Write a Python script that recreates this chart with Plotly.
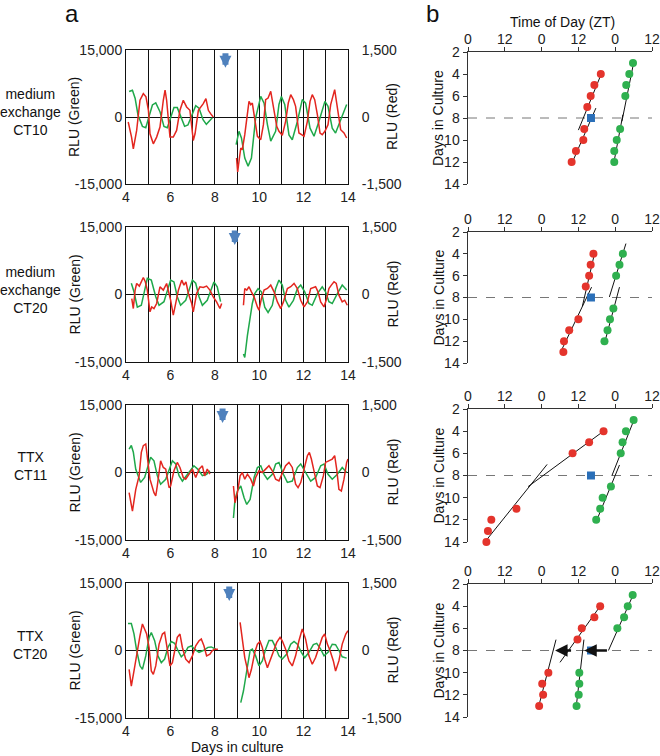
import plotly.graph_objects as go

# ---------------- Panel a : bioluminescence traces ----------------
# days in culture, green RLU (left axis), red RLU (right axis); None = gap at medium exchange / TTX
a1_green_days = [4.14, 4.29, 4.41, 4.54, 4.74, 4.89, 5.04, 5.19, 5.34, 5.53, 5.71, 5.86, 6.01, 6.16, 6.31, 6.49, 6.64, 6.79, 6.99, 7.14, 7.29, 7.47, 7.62, 7.78, 7.89, None,
                 8.96, 9.09, 9.20, 9.35, 9.50, 9.65, 9.84, 10.07, 10.22, 10.37, 10.52, 10.74, 10.89, 11.0, 11.15, 11.34, 11.49, 11.72, 11.94, 12.09, 12.29, 12.47, 12.69, 12.96, 13.10, 13.29, 13.44, 13.67, 13.94]
a1_green_rlu = [5700, 6000, 4200, 450, -2100, -2400, 150, 2700, 3150, 1200, -2100, -2400, -150, 2100, 2100, -150, -2100, -1800, 900, 2550, 1950, -600, -1650, -750, -150, None,
                -6200, -3200, -4700, -9200, -11000, -9200, -200, 4600, 3100, -1700, -5400, -3200, 2800, 4600, 2800, -4000, -5100, -1000, 3900, 3100, -2500, -4300, -1000, 3500, 2400, -2500, -3600, -600, 2800]
a1_red_days = [4.10, 4.25, 4.33, 4.40, 4.48, 4.63, 4.78, 4.90, 5.01, 5.08, 5.23, 5.38, 5.53, 5.68, 5.76, 5.83, 5.98, 6.13, 6.28, 6.43, 6.58, 6.73, 6.88, 7.03, 7.11, 7.26, 7.48, 7.60, 7.71, 7.81, 7.93, None,
               8.98, 9.03, 9.09, 9.17, 9.24, 9.35, 9.54, 9.62, 9.69, 9.80, 9.92, 10.07, 10.19, 10.29, 10.40, 10.52, 10.64, 10.79, 10.89, 11.04, 11.19, 11.31, 11.42, 11.54, 11.64, 11.79, 11.91, 12.02, 12.17, 12.29, 12.39, 12.50, 12.62, 12.74, 12.84, 12.96, 13.10, 13.22, 13.40, 13.49, 13.59, 13.67, 13.82, 13.94]
a1_red_rlu = [-112, -450, -712, -525, -300, 375, 525, 450, 150, -375, -600, -450, -225, 375, 600, 375, -450, -450, -300, 150, 375, 225, 150, -525, -375, 150, 300, 412, 150, 75, 0, None,
              -918, -1230, -990, -694, -731, -396, 351, 276, 313, -60, -433, -507, -172, 388, 425, 575, 201, -209, -321, -410, -97, 313, 500, 388, 239, -358, -396, -433, -97, 351, 500, 388, 52, -358, -396, -321, -172, 276, 612, 351, -22, -284, -358, -470]

a2_green_days = [4.24, 4.36, 4.51, 4.69, 4.96, 5.14, 5.34, 5.49, 5.71, 6.01, 6.16, 6.31, 6.46, 6.69, 6.99, 7.14, 7.29, 7.44, 7.66, 7.96, 8.11, 8.26, None,
                 9.29, 9.35, 9.47, 9.59, 9.69, 9.80, 9.95, 10.10, 10.25, 10.40, 10.59, 10.74, 10.89, 11.04, 11.19, 11.34, 11.54, 11.72, 11.87, 12.05, 12.24, 12.39, 12.62, 12.84, 12.99, 13.14, 13.29, 13.52, 13.74, 13.94]
a2_green_rlu = [2500, 600, -2800, -2400, 3600, 3200, -500, -2400, -1600, 3200, 2800, -500, -2400, -1300, 3200, 2500, -500, -2400, -1300, 2800, 1700, -1600, None,
                -13200, -14000, -9100, -4600, -2000, 200, 1300, 600, -2800, -4000, -2400, 1300, 3200, 2100, -1300, -2800, -1300, 1300, 2100, 600, -2000, -2400, 200, 1700, 600, -1600, -2000, 200, 2100, 1000]
a2_red_days = [4.26, 4.33, 4.41, 4.48, 4.60, 4.71, 4.78, 4.87, 4.96, 5.08, 5.16, 5.26, 5.38, 5.53, 5.68, 5.83, 5.91, 6.01, 6.13, 6.21, 6.36, 6.51, 6.61, 6.70, 6.81, 6.96, 7.03, 7.18, 7.33, 7.48, 7.63, 7.78, 7.93, 8.08, 8.23, 8.31, None,
               9.29, 9.35, 9.44, 9.54, 9.65, 9.77, 9.92, 9.99, 10.10, 10.22, 10.37, 10.52, 10.67, 10.82, 10.97, 11.09, 11.27, 11.42, 11.57, 11.72, 11.87, 12.02, 12.17, 12.32, 12.54, 12.65, 12.77, 12.92, 13.04, 13.14, 13.25, 13.37, 13.47, 13.59, 13.74, 13.85, 13.97]
a2_red_rlu = [-90, -312, 97, 245, 186, 319, 379, 282, 97, -386, -275, -312, -200, 171, 97, 245, 97, -126, -460, -275, 97, 319, 208, 282, 22, -200, -386, 22, 171, 156, 186, 97, -52, -163, -312, -200, None,
              -239, 134, 97, 172, 60, -52, -276, -351, -90, 97, 134, 209, 60, -164, -313, -164, 134, 172, 246, 134, -127, -276, -164, 134, 172, 60, -164, -276, -90, 134, 209, 284, 246, -15, -164, -127, -239]

a3_green_days = [4.14, 4.24, 4.33, 4.44, 4.66, 4.84, 5.11, 5.26, 5.41, 5.56, 5.79, 6.09, 6.24, 6.39, 6.54, 6.76, 7.06, 7.24, 7.44, 7.63, 7.78, None,
                 8.84, 8.91, 9.02, 9.17, 9.32, 9.44, 9.59, 9.77, 9.92, 10.07, 10.22, 10.37, 10.59, 10.74, 10.89, 11.09, 11.27, 11.49, 11.72, 11.87, 12.09, 12.32, 12.54, 12.77, 12.92, 13.10, 13.29, 13.52, 13.74, 13.94]
a3_green_rlu = [5200, 6000, 4500, 700, -2200, -1100, 3400, 2600, -700, -2600, -1500, 2600, 1900, -700, -1900, -400, 1500, 700, -700, -400, 400, None,
                -10100, -6000, -4100, -3000, -5600, -7100, -6000, -1100, 1100, 1500, -400, -1500, -400, 1900, 2200, -400, -2200, -1900, 1100, 1900, 0, -1900, -1100, 1500, 1900, -400, -1500, -400, 1100, 0]
a3_red_days = [4.14, 4.29, 4.44, 4.59, 4.69, 4.78, 4.89, 4.96, 5.08, 5.26, 5.34, 5.41, 5.56, 5.68, 5.79, 5.94, 6.01, 6.16, 6.31, 6.43, 6.58, 6.69, 6.84, 6.99, 7.14, 7.29, 7.44, 7.54, 7.66, 7.78, None,
               8.84, 8.91, 9.02, 9.14, 9.24, 9.35, 9.47, 9.62, 9.74, 9.84, 9.99, 10.14, 10.29, 10.44, 10.59, 10.74, 10.89, 11.04, 11.19, 11.34, 11.49, 11.64, 11.75, 11.87, 12.02, 12.17, 12.26, 12.35, 12.50, 12.62, 12.74, 12.89, 12.99, 13.14, 13.29, 13.40, 13.49, 13.59, 13.70, 13.82, 13.94, 14.0]
a3_red_rlu = [-448, -858, -373, -75, 448, 597, 634, 373, -149, -448, -522, -299, 261, 112, 75, -336, -299, 37, 224, 112, -112, -149, -37, 75, -112, 75, 149, -75, 75, -37, None,
              -299, -672, -448, -75, 0, -149, -37, -149, -299, -112, 37, 0, 75, 149, 37, -149, -187, 0, 149, 224, 112, -261, -336, -224, 75, 373, 448, 299, -37, -299, -336, -75, 224, 261, 299, 373, 75, -373, -410, -149, 224, 299]

a4_green_days = [4.09, 4.24, 4.36, 4.48, 4.63, 4.74, 4.89, 5.04, 5.14, 5.29, 5.44, 5.59, 5.74, 5.89, 6.04, 6.19, 6.34, 6.49, 6.64, 6.79, 6.94, 7.09, 7.29, 7.48, 7.69, 7.84, 8.04, None,
                 9.17, 9.29, 9.39, 9.50, 9.59, 9.69, 9.84, 9.99, 10.14, 10.29, 10.44, 10.59, 10.74, 10.89, 11.04, 11.24, 11.42, 11.57, 11.72, 11.90, 12.05, 12.24, 12.44, 12.59, 12.77, 12.92, 13.10, 13.29, 13.44, 13.59, 13.74, 13.94]
a4_green_rlu = [6000, 6000, 3700, 0, -3400, -4200, -1200, 2900, 4000, 2200, -1200, -2700, -1900, 700, 2000, 1600, 0, -1400, -700, 700, 1000, 300, -400, 0, 700, 800, 300, None,
                -11600, -9000, -6000, -2300, 0, 300, -1200, -3400, -2300, 300, 2200, 2200, 700, -1200, -1900, -800, 1400, 2000, 1400, -400, -1600, -400, 1300, 1600, 300, -1200, -400, 1400, 1300, 0, -1400, -1700]
a4_red_days = [4.14, 4.24, 4.36, 4.51, 4.63, 4.74, 4.84, 4.93, 5.04, 5.14, 5.23, 5.34, 5.49, 5.64, 5.74, 5.86, 5.98, 6.09, 6.19, 6.31, 6.43, 6.54, 6.69, 6.84, 6.99, 7.14, 7.29, 7.39, 7.51, 7.63, 7.78, 7.89, 7.99, 8.14, None,
               9.14, 9.24, 9.35, 9.47, 9.54, 9.65, 9.80, 9.92, 10.04, 10.14, 10.25, 10.37, 10.49, 10.64, 10.79, 10.94, 11.04, 11.19, 11.34, 11.49, 11.64, 11.79, 11.94, 12.09, 12.24, 12.39, 12.54, 12.69, 12.84, 12.95, 13.07, 13.19, 13.34, 13.44, 13.59, 13.74, 13.90, 14.0]
a4_red_rlu = [-418, -791, -455, 0, 328, 590, 478, 366, 67, -455, -530, -343, 142, 366, 403, 67, -343, -269, 0, 291, 366, 67, -194, -269, -119, 104, 216, 254, 104, -119, -82, 0, 30, 30, None,
              627, 291, -157, -418, -604, -418, -45, 142, 201, 67, -194, -381, -231, 0, 179, 291, 216, 30, -231, -343, -119, 216, 478, 254, -119, -306, -157, 67, 291, 366, 142, 0, -231, -455, -231, 142, 366, 440]

# day of the manipulation (blue arrow) per row
a_event_day = [8.48, 8.90, 8.35, 8.65]
row_labels = ["medium<br>exchange<br>CT10", "medium<br>exchange<br>CT20", "TTX<br>CT11", "TTX<br>CT20"]

# ---------------- Panel b : peak phase plots (ZT hours, day in culture) ----------------
b1_red_day = [4, 5, 6, 7, 9, 10, 11, 12]
b1_red_zt = [43.3, 41.2, 40.0, 38.9, 37.9, 37.6, 35.2, 33.8]
b1_green_day = [3, 4, 5, 6, 9, 10, 11, 12]
b1_green_zt = [53.8, 52.6, 51.6, 51.3, 49.6, 48.5, 47.7, 47.7]
b1_red_fit_zt = [43.6, 36.0, None, 33.6, 41.7]
b1_red_fit_day = [3.9, 9.1, None, 12.3, 7.1]
b1_green_fit_zt = [54.0, 50.2, None, 50.5, 47.4]
b1_green_fit_day = [3.0, 8.3, None, 7.7, 12.3]

b2_red_day = [4, 5, 6, 7, 10, 11, 12, 13]
b2_red_zt = [40.9, 40.0, 39.5, 38.4, 36.0, 33.0, 31.3, 31.1]
b2_green_day = [4, 5, 6, 9, 10, 11, 12]
b2_green_zt = [50.5, 49.4, 48.3, 47.4, 46.3, 45.5, 44.5]
b2_red_fit_zt = [41.4, 37.3, None, 40.3, 30.2]
b2_red_fit_day = [3.8, 8.8, None, 7.05, 13.0]
b2_green_fit_zt = [51.5, 46.1, None, 49.4, 44.4]
b2_green_fit_day = [3.06, 7.95, None, 7.05, 12.3]

b3_red_day = [4, 5, 6, 11, 12, 13, 14]
b3_red_zt = [44.2, 39.5, 34.1, 15.8, 7.6, 6.5, 6.0]
b3_green_day = [3, 4, 5, 6, 9, 10, 11, 12]
b3_green_zt = [54.0, 51.5, 50.4, 49.8, 46.6, 43.9, 43.1, 41.8]
b3_red_fit_zt = [44.2, 19.6, None, 5.5, 25.8]
b3_red_fit_day = [4.0, 9.0, None, 14.0, 7.0]
b3_green_fit_zt = [54.2, 46.9, None, 49.4, 41.8]
b3_green_fit_day = [2.93, 8.03, None, 7.05, 12.15]

b4_red_day = [4, 5, 6, 7, 10, 11, 12, 13]
b4_red_zt = [43.1, 41.2, 37.1, 35.7, 26.2, 24.2, 24.5, 23.2]
b4_green_day = [3, 4, 5, 6, 10, 11, 12, 13]
b4_green_zt = [53.7, 52.1, 50.9, 48.7, 36.3, 36.3, 36.1, 35.4]
b4_red_fit_zt = [43.1, 30.0, None, 28.7, 22.9]
b4_red_fit_day = [4.0, 9.07, None, 7.02, 13.2]
b4_green_fit_zt = [53.9, 45.8, None, 37.8, 35.2]
b4_green_fit_day = [2.95, 8.0, None, 7.02, 13.3]
b4_shift_from_zt = [45.8, 34.1]
b4_shift_to_zt = [37.9, 28.4]

event_zt = [40.1, 40.1, 40.1, 40.1]
exchange_day = 8
zt_ticks = [0, 12, 24, 36, 48, 60]
zt_ticktext = ["0", "12", "0", "12", "0", "12"]

# ---------------- assemble ----------------
A = [(a1_green_days, a1_green_rlu, a1_red_days, a1_red_rlu),
     (a2_green_days, a2_green_rlu, a2_red_days, a2_red_rlu),
     (a3_green_days, a3_green_rlu, a3_red_days, a3_red_rlu),
     (a4_green_days, a4_green_rlu, a4_red_days, a4_red_rlu)]
B = [(b1_red_day, b1_red_zt, b1_green_day, b1_green_zt, b1_red_fit_zt, b1_red_fit_day, b1_green_fit_zt, b1_green_fit_day),
     (b2_red_day, b2_red_zt, b2_green_day, b2_green_zt, b2_red_fit_zt, b2_red_fit_day, b2_green_fit_zt, b2_green_fit_day),
     (b3_red_day, b3_red_zt, b3_green_day, b3_green_zt, b3_red_fit_zt, b3_red_fit_day, b3_green_fit_zt, b3_green_fit_day),
     (b4_red_day, b4_red_zt, b4_green_day, b4_green_zt, b4_red_fit_zt, b4_red_fit_day, b4_green_fit_zt, b4_green_fit_day)]

W, H = 660, 756
FONT = "Liberation Sans, Arial, sans-serif"
GREEN = "#1fa84a"
RED = "#e3261f"
DOT_GREEN = "#2fb04f"
DOT_RED = "#e4342c"
BLUE_SQ = "#2a6fb8"
BLUE_ARROW = "#4f81bd"

def px_x(p):
    return p / W

def px_y(p):
    return 1 - p / H

left_x = [px_x(126), px_x(348)]
right_x = [px_x(468), px_x(652)]
left_rows = [(50, 184), (227, 362), (405, 540), (583, 718)]
right_rows = [(52, 184), (232, 363), (409, 542), (584, 717)]

def ax_name(kind, n):
    return f"{kind}axis" if n == 1 else f"{kind}axis{n}"

def ax_ref(kind, n):
    return kind if n == 1 else f"{kind}{n}"

fig = go.Figure()
layout = {}
annotations = []

for i in range(4):
    nxL, nxR = 2 * i + 1, 2 * i + 2
    nyG, nyR, nyP = 3 * i + 1, 3 * i + 2, 3 * i + 3
    gd, gv, rd, rv = A[i]
    fig.add_trace(go.Scatter(x=gd, y=gv, mode="lines", line=dict(color=GREEN, width=1.5),
                             xaxis=ax_ref("x", nxL), yaxis=ax_ref("y", nyG), showlegend=False, connectgaps=False))
    fig.add_trace(go.Scatter(x=rd, y=rv, mode="lines", line=dict(color=RED, width=1.5),
                             xaxis=ax_ref("x", nxL), yaxis=ax_ref("y", nyR), showlegend=False, connectgaps=False))

    t, b = left_rows[i]
    layout[ax_name("x", nxL)] = dict(
        domain=left_x, anchor=ax_ref("y", nyG), range=[4, 14], automargin=False,
        tickvals=[4, 6, 8, 10, 12, 14], ticks="", showline=True, mirror=True,
        linecolor="#111", linewidth=1, showgrid=True, gridcolor="#111", gridwidth=1,
        minor=dict(dtick=1, tick0=4, showgrid=True, gridcolor="#111", gridwidth=1),
        zeroline=False, tickfont=dict(size=14, color="#222"))
    layout[ax_name("y", nyG)] = dict(
        domain=[px_y(b), px_y(t)], anchor=ax_ref("x", nxL), range=[-15000, 15000], automargin=False,
        tickvals=[-15000, 0, 15000], ticktext=["-15,000", "0", "15,000"], ticks="",
        showline=True, linecolor="#111", linewidth=1, showgrid=False,
        zeroline=True, zerolinecolor="#111", zerolinewidth=1,
        tickfont=dict(size=14, color="#222"))
    layout[ax_name("y", nyR)] = dict(
        overlaying=ax_ref("y", nyG), side="right", anchor=ax_ref("x", nxL), range=[-1500, 1500],
        automargin=False, tickvals=[-1500, 0, 1500], ticktext=["-1,500", "0", "1,500"], ticks="",
        showline=True, linecolor="#111", linewidth=1, showgrid=False, zeroline=False,
        ticklabelstandoff=10, tickfont=dict(size=14, color="#222"))

    # blue arrow marking the manipulation
    annotations.append(dict(x=a_event_day[i], y=11000, xref=ax_ref("x", nxL), yref=ax_ref("y", nyG),
                            ax=0, ay=-16, showarrow=True, arrowhead=2, arrowsize=0.4, arrowwidth=6,
                            arrowcolor=BLUE_ARROW, text=""))

    # ---- phase panel ----
    red_d, red_zt, gr_d, gr_zt, rf_zt, rf_d, gf_zt, gf_d = B[i]
    xr, yr = ax_ref("x", nxR), ax_ref("y", nyP)
    fig.add_trace(go.Scatter(x=[0, 60], y=[exchange_day, exchange_day], mode="lines",
                             line=dict(color="#777", width=1, dash="dash"),
                             xaxis=xr, yaxis=yr, showlegend=False))
    fig.add_trace(go.Scatter(x=rf_zt, y=rf_d, mode="lines", line=dict(color="#111", width=1),
                             xaxis=xr, yaxis=yr, showlegend=False))
    fig.add_trace(go.Scatter(x=gf_zt, y=gf_d, mode="lines", line=dict(color="#111", width=1),
                             xaxis=xr, yaxis=yr, showlegend=False))
    fig.add_trace(go.Scatter(x=red_zt, y=red_d, mode="markers", marker=dict(color=DOT_RED, size=8),
                             xaxis=xr, yaxis=yr, showlegend=False, cliponaxis=False))
    fig.add_trace(go.Scatter(x=gr_zt, y=gr_d, mode="markers", marker=dict(color=DOT_GREEN, size=8),
                             xaxis=xr, yaxis=yr, showlegend=False, cliponaxis=False))
    if i == 3:
        for f, tz in zip(b4_shift_from_zt, b4_shift_to_zt):
            annotations.append(dict(x=tz, y=exchange_day, ax=f, ay=exchange_day, xref=xr, yref=yr,
                                    axref=xr, ayref=yr, showarrow=True, arrowhead=2, arrowsize=1,
                                    arrowwidth=2.5, arrowcolor="#111", text=""))
    fig.add_trace(go.Scatter(x=[event_zt[i]], y=[exchange_day], mode="markers",
                             marker=dict(color=BLUE_SQ, size=8, symbol="square"),
                             xaxis=xr, yaxis=yr, showlegend=False))

    t2, b2 = right_rows[i]
    layout[ax_name("x", nxR)] = dict(
        domain=right_x, anchor=yr, side="top", range=[0, 60], tickvals=zt_ticks, ticktext=zt_ticktext,
        automargin=False, ticks="outside", ticklen=4, tickcolor="#333", showline=True, linecolor="#333",
        linewidth=1.5, showgrid=False, zeroline=False, ticklabelstandoff=-3,
        tickfont=dict(size=14, color="#222"))
    layout[ax_name("y", nyP)] = dict(
        domain=[px_y(b2), px_y(t2)], anchor=xr, range=[14, 2], tickvals=[2, 4, 6, 8, 10, 12, 14],
        automargin=False, ticks="outside", ticklen=4, tickcolor="#333", showline=True, linecolor="#333",
        linewidth=1.5, showgrid=False, zeroline=False, tickfont=dict(size=14, color="#222"))

    # texts
    yc_left = px_y((t + b) / 2)
    yc_right = px_y((t2 + b2) / 2)
    annotations.append(dict(x=px_x(30), y=px_y([112, 290, 466, 645][i]), xref="paper", yref="paper",
                            text=row_labels[i], showarrow=False, font=dict(size=14, color="#111"),
                            xanchor="center", yanchor="middle", align="center"))
    annotations.append(dict(x=px_x(74), y=yc_left, xref="paper", yref="paper", text="RLU (Green)",
                            textangle=-90, showarrow=False, font=dict(size=14, color="#111"),
                            xanchor="center", yanchor="middle"))
    annotations.append(dict(x=px_x(392), y=yc_left, xref="paper", yref="paper", text="RLU (Red)",
                            textangle=-90, showarrow=False, font=dict(size=14, color="#111"),
                            xanchor="center", yanchor="middle"))
    annotations.append(dict(x=px_x(438), y=yc_right, xref="paper", yref="paper", text="Days in Culture",
                            textangle=-90, showarrow=False, font=dict(size=14, color="#111"),
                            xanchor="center", yanchor="middle"))

annotations.append(dict(x=px_x(72), y=px_y(13), xref="paper", yref="paper", text="a", showarrow=False,
                        font=dict(size=24, color="#111"), xanchor="center", yanchor="middle"))
annotations.append(dict(x=px_x(432), y=px_y(13), xref="paper", yref="paper", text="b", showarrow=False,
                        font=dict(size=24, color="#111"), xanchor="center", yanchor="middle"))
annotations.append(dict(x=px_x(562), y=px_y(22), xref="paper", yref="paper", text="Time of Day (ZT)",
                        showarrow=False, font=dict(size=14, color="#111"), xanchor="center", yanchor="middle"))
annotations.append(dict(x=px_x(237), y=px_y(747), xref="paper", yref="paper", text="Days in culture",
                        showarrow=False, font=dict(size=14, color="#111"), xanchor="center", yanchor="middle"))

fig.update_layout(width=W, height=H, margin=dict(l=0, r=0, t=0, b=0, pad=0), autosize=False,
                  template="none",
                  paper_bgcolor="white", plot_bgcolor="white", showlegend=False,
                  font=dict(family=FONT, size=14, color="#111"), annotations=annotations, **layout)

fig.write_html("out.html", config={"displayModeBar": False, "staticPlot": True},
               post_script="document.body.style.margin='0';document.body.style.padding='0';"
                           "document.body.style.overflow='hidden';"
                           "document.documentElement.style.overflow='hidden';")
